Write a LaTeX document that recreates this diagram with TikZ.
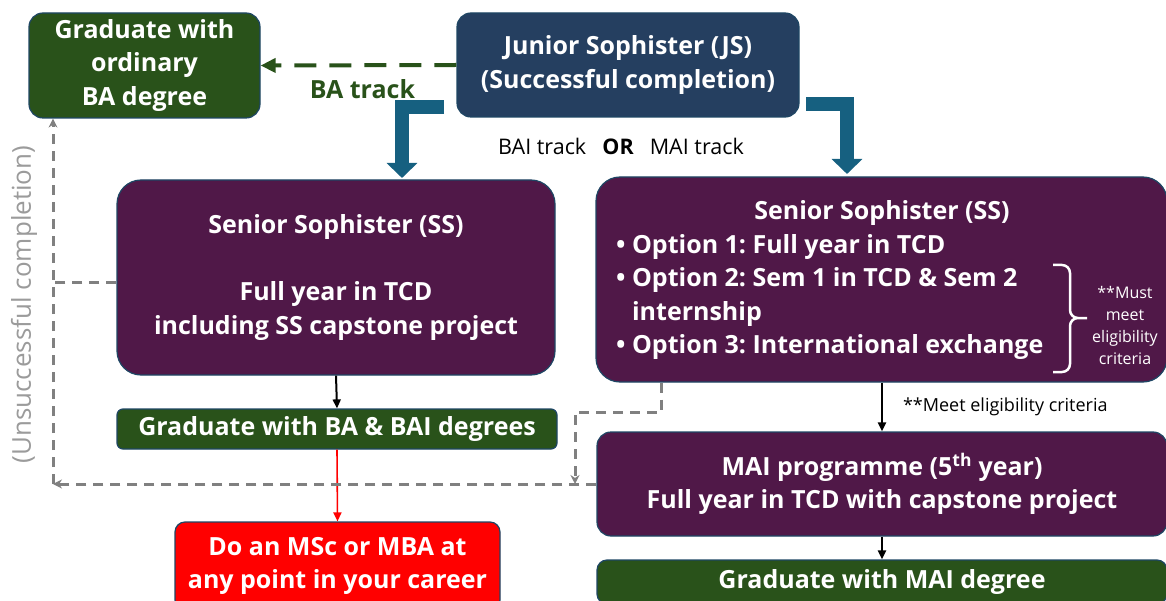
\documentclass[tikz,border=0pt]{standalone}
\usepackage{fontspec}
\setmainfont{Open Sans}
\usepackage{tikz}
\usetikzlibrary{arrows.meta,calc,positioning}
\frenchspacing
\definecolor{gradgreen}{RGB}{41,82,26}
\definecolor{jsnavy}{RGB}{37,63,96}
\definecolor{sspurple}{RGB}{80,24,72}
\definecolor{trackblue}{RGB}{22,96,128}
\definecolor{boxedge}{RGB}{30,70,100}
\definecolor{failgrey}{RGB}{128,128,128}
\definecolor{notegrey}{RGB}{155,155,155}
\definecolor{mscred}{RGB}{255,0,0}
\newcommand{\boxfont}{\bfseries\fontsize{25}{33.5}\selectfont}
\tikzset{
  stagebox/.style={rounded corners=14pt,draw=boxedge,line width=1.2pt,
    text=white,font=\boxfont,align=center,inner sep=0pt},
  boxtext/.style={text=white,font=\boxfont,inner sep=0pt},
  blockarrow/.style={line width=14pt,draw=trackblue,
    -{Triangle[width=30pt,length=15pt]}},
  batrack/.style={line width=4pt,draw=gradgreen,dash pattern=on 22pt off 13pt,
    -{Triangle[width=14pt,length=15pt]}},
  failarc/.style={line width=3pt,draw=failgrey,dash pattern=on 10pt off 7pt,
    -{Stealth[width=9pt,length=9pt]}},
  nextarc/.style={line width=2pt,draw=black,-{Triangle[width=8pt,length=9pt]}},
  arclabel/.style={font=\fontsize{18}{22}\selectfont,inner sep=0pt}
}
\begin{document}
\begin{tikzpicture}[x=1pt,y=-1pt]
  \useasboundingbox (0,0) rectangle (1166,601);
  % boxes
  \node[stagebox,fill=gradgreen,minimum width=231,minimum height=105] (gradba) at (144.5,65.5) {Graduate with\\ordinary\\BA degree};
  \node[stagebox,fill=jsnavy,minimum width=342,minimum height=104] (js) at (628,65) {Junior Sophister (JS)\\(Successful completion)};
  \node[stagebox,fill=sspurple,rounded corners=24pt,minimum width=438,minimum height=195] (ssl) at (336,277.5) {Senior Sophister (SS)\\[33.5pt]Full year in TCD\\including SS capstone project};
  \node[stagebox,fill=sspurple,rounded corners=24pt,minimum width=571,minimum height=205] (ssr) at (881.5,279.5) {};
  \node[boxtext] (ssrtitle) at (882,213) {Senior Sophister (SS)};
  \node[boxtext,align=left,anchor=west] (ssropts) at (616,297) {\textbullet\ Option 1: Full year in TCD\\
    \textbullet\ Option 2: Sem 1 in TCD \& Sem 2\\
    \hphantom{\textbullet\ }internship\\
    \textbullet\ Option 3: International exchange};
  \node[text=white,align=center,inner sep=0pt,font=\fontsize{16}{22}\selectfont] (mustnote) at (1125,325) {**Must\\meet\\eligibility\\criteria};
  \node[stagebox,fill=gradgreen,rounded corners=6pt,minimum width=440,minimum height=40] (gradbai) at (337,429) {Graduate with BA \& BAI degrees};
  \node[stagebox,fill=mscred,rounded corners=10pt,minimum width=325,minimum height=88] (msc) at (337.5,566) {Do an MSc or MBA at\\any point in your career};
  \node[stagebox,fill=sspurple,minimum width=570,minimum height=104] (mai) at (882,484) {MAI programme (5\textsuperscript{th} year)\\Full year in TCD with capstone project};
  \node[stagebox,fill=gradgreen,rounded corners=10pt,minimum width=570,minimum height=44] (gradmai) at (882,582) {Graduate with MAI degree};
  % free texts
  \node[font=\fontsize{21.5}{26}\selectfont,inner sep=0pt] (trackor) at (621,146) {BAI track\hspace{0.75em}\textbf{OR}\hspace{0.75em}MAI track};
  \node[font=\fontsize{26}{30}\selectfont,text=notegrey,rotate=90,inner sep=0pt] (failnote) at (24,304.5) {(Unsuccessful completion)};
  % track arrows
  \coordinate (baitail) at (444,107.5);
  \coordinate (baitip) at (402,178);
  \coordinate (maitail) at (806,104);
  \coordinate (maitip) at (847,174);
  \draw[blockarrow] (baitail) -| (baitip);
  \draw[blockarrow] (maitail) -| (maitip);
  \draw[batrack] (js.west) -- node[below=12pt,pos=0.48,font=\boxfont,text=gradgreen,inner sep=0pt] {BA track} (gradba.east);
  % progression
  \draw[nextarc] (ssl.south) -- (gradbai.north);
  \draw[nextarc] (ssr.south -| mai.north) -- node[right=20pt,arclabel] {**Meet eligibility criteria} (mai.north);
  \draw[nextarc] (mai.south) -- (gradmai.north);
  \draw[nextarc,draw=mscred,line width=1.6pt] (gradbai.south) -- (msc.north);
  % unsuccessful routes
  \coordinate (failcorner) at (53,484);
  \coordinate (bailand) at (575,484);
  \draw[failarc] (mai.west) -- (failcorner);
  \draw[failarc] (failcorner) -- (gradba.south -| failcorner);
  \draw[failarc,-] ($(ssl.west)+(0,5)$) -- ($(ssl.west -| failcorner)+(0,5)$);
  \draw[failarc] ($(ssr.south west)+(66,0)$) |- ($(bailand)+(0,-72)$) -- (bailand);
  % brace
  \draw[white,line width=2.5pt,rounded corners=8pt] (1053,265) -| (1070,318) -- (1087,318)
    (1087,318) -- (1070,318) |- (1053,372);
\end{tikzpicture}
\end{document}
